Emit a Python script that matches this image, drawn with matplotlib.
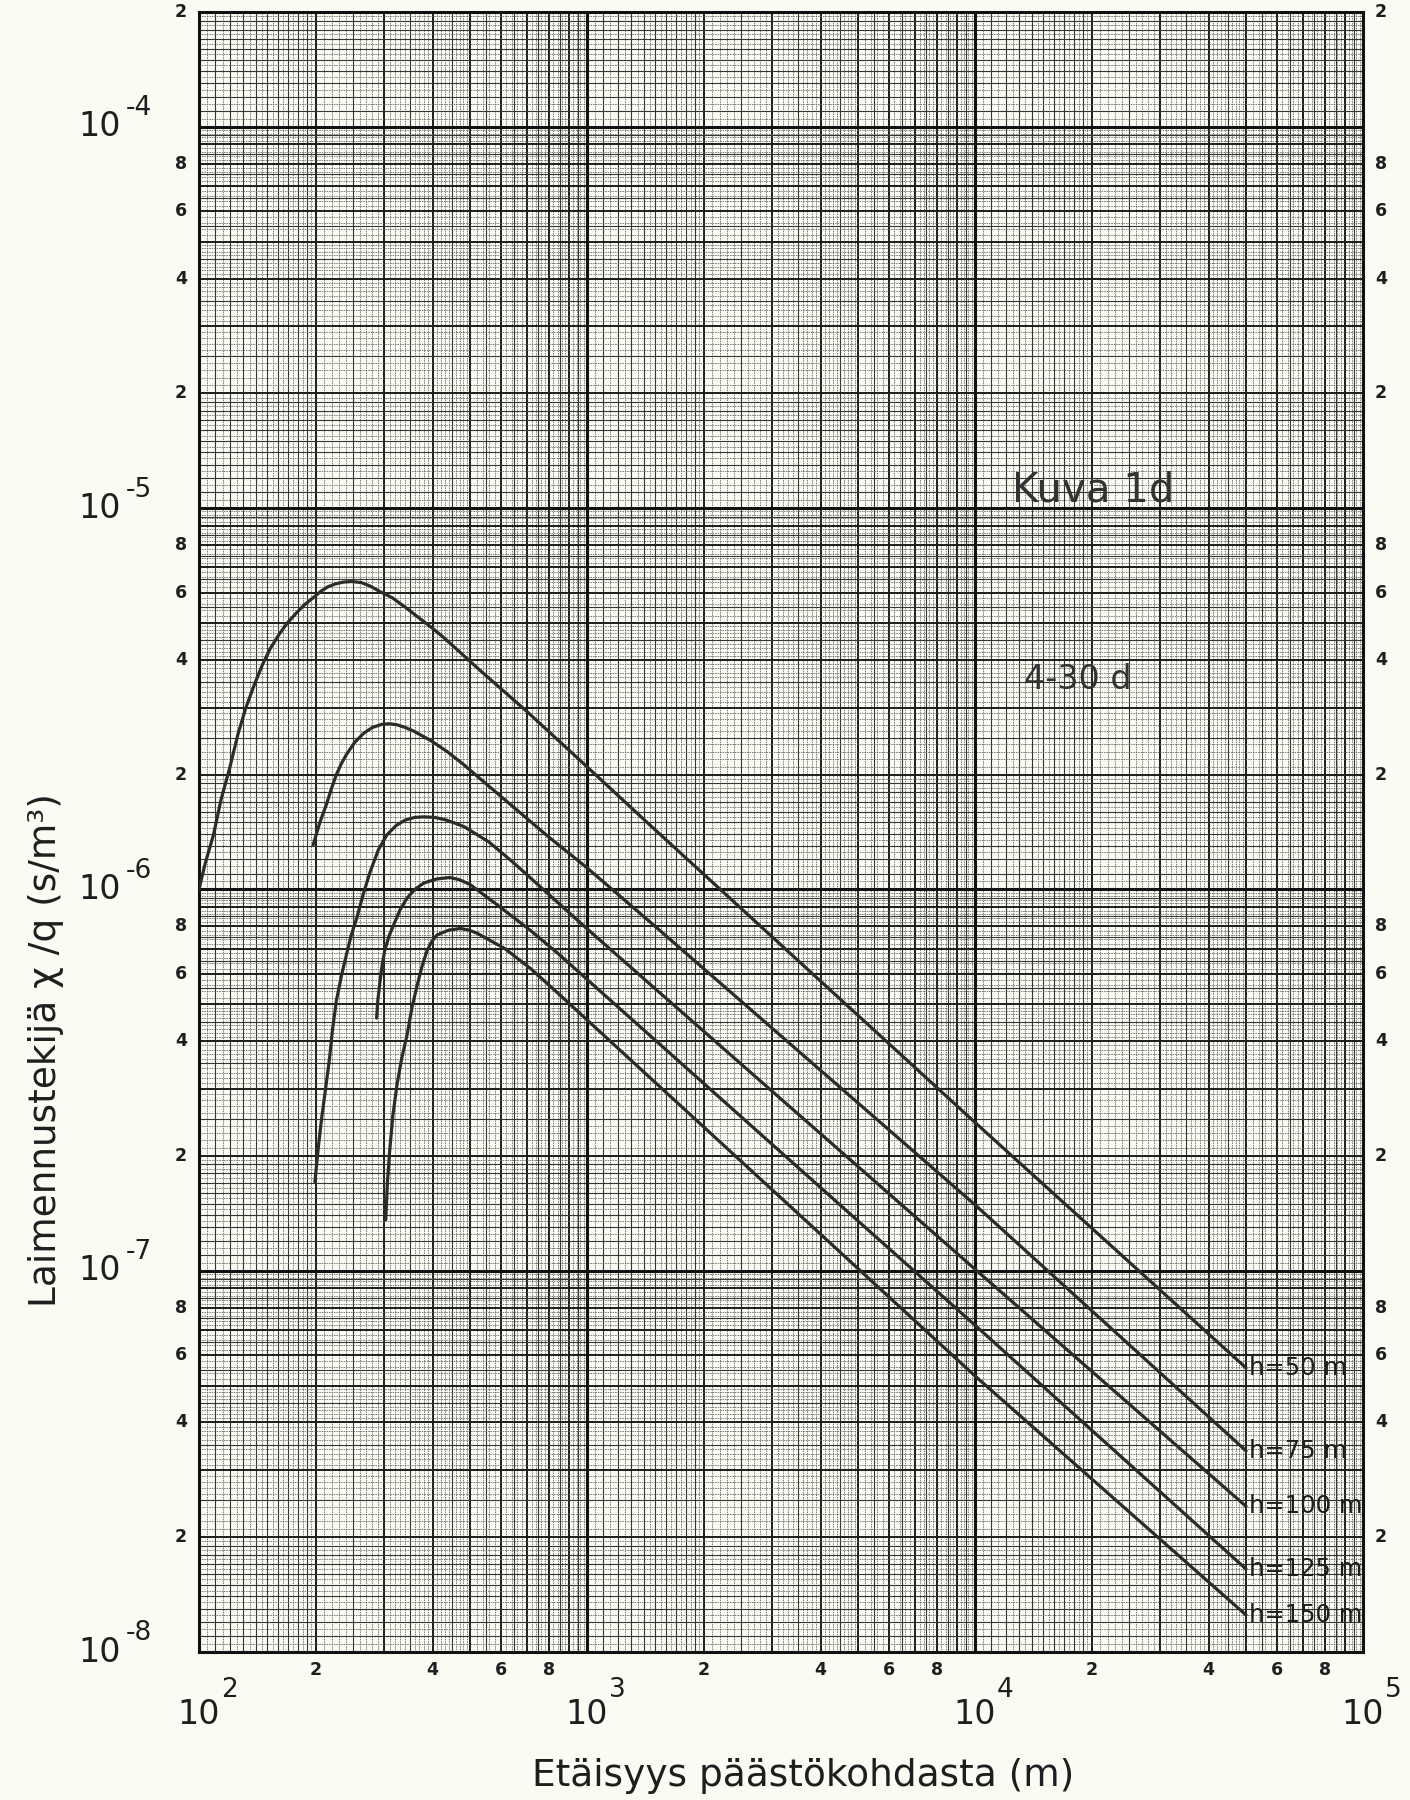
import numpy as np
import matplotlib
matplotlib.use("Agg")
import matplotlib.pyplot as plt
import matplotlib.font_manager as fm

# ---------------- data ----------------
h50_x = [100, 104, 109, 114, 120, 126, 132, 139, 146, 153, 161, 169, 178, 187, 197, 206, 215, 225, 236,
         248, 262, 276, 292, 315, 340, 365, 394, 425, 460, 531, 700, 965, 1438, 10000, 50000]
h50_y = [1.0e-6, 1.18e-6, 1.39e-6, 1.72e-6, 2.08e-6, 2.55e-6, 2.99e-6, 3.45e-6, 3.9e-6, 4.3e-6, 4.67e-6,
         5.0e-6, 5.3e-6, 5.58e-6, 5.82e-6, 6.05e-6, 6.22e-6, 6.33e-6, 6.4e-6,
         6.42e-6, 6.38e-6, 6.25e-6, 6.05e-6, 5.82e-6, 5.5e-6, 5.2e-6, 4.9e-6, 4.6e-6, 4.28e-6, 3.75e-6,
         2.93e-6, 2.17e-6, 1.49e-6, 2.45e-7, 5.56e-8]

h75_x = [197, 205, 213, 220, 226, 233, 240, 252, 266, 280, 296, 310, 325, 340, 358, 395, 436, 480, 531,
         792, 1000, 1438, 10000, 50000]
h75_y = [1.31e-6, 1.5e-6, 1.67e-6, 1.85e-6, 2.0e-6, 2.14e-6, 2.26e-6, 2.43e-6, 2.57e-6, 2.66e-6, 2.71e-6,
         2.72e-6, 2.70e-6, 2.66e-6, 2.60e-6, 2.46e-6, 2.30e-6, 2.13e-6, 1.95e-6,
         1.38e-6, 1.14e-6, 0.83e-6, 1.49e-7, 3.37e-8]

h100_x = [199, 203, 207, 212, 217, 221, 226, 233, 240, 247, 255, 265, 276, 290, 305, 322, 340, 360, 380,
          405, 430, 455, 483, 560, 650, 965, 1438, 10000, 50000]
h100_y = [1.71e-7, 2.1e-7, 2.5e-7, 3.0e-7, 3.6e-7, 4.3e-7, 5.1e-7, 5.95e-7, 6.75e-7, 7.6e-7, 8.4e-7,
          9.7e-7, 1.11e-6, 1.27e-6, 1.39e-6, 1.47e-6, 1.52e-6, 1.545e-6, 1.55e-6,
          1.545e-6, 1.525e-6, 1.495e-6, 1.46e-6, 1.33e-6, 1.17e-6, 0.815e-6, 0.57e-6, 1.01e-7, 2.41e-8]

h125_x = [287, 289, 292, 296, 301, 309, 318, 330, 344, 360, 380, 410, 443, 470, 500, 588, 716, 841,
          10000, 50000]
h125_y = [4.6e-7, 5.1e-7, 5.6e-7, 6.25e-7, 6.9e-7, 7.55e-7, 8.1e-7, 8.85e-7, 0.95e-6, 1.0e-6, 1.04e-6,
          1.065e-6, 1.075e-6, 1.06e-6, 1.03e-6, 0.91e-6, 0.78e-6, 0.68e-6, 7.2e-8, 1.65e-8]

h150_x = [303, 306, 310, 316, 324, 333, 344, 354, 365, 376, 387, 398, 411, 440, 472, 497, 522, 614, 716,
          841, 10000, 50000]
h150_y = [1.36e-7, 1.7e-7, 2.05e-7, 2.55e-7, 3.08e-7, 3.6e-7, 4.16e-7, 4.9e-7, 5.6e-7, 6.3e-7, 6.9e-7,
          7.3e-7, 7.6e-7, 7.82e-7, 7.9e-7, 7.82e-7, 7.67e-7, 7.0e-7, 6.2e-7, 5.35e-7, 5.3e-8, 1.25e-8]

curve_labels = ["h=50 m", "h=75 m", "h=100 m", "h=125 m", "h=150 m"]

x_decade_exps = [2, 3, 4, 5]
y_decade_exps = [-8, -7, -6, -5, -4]
minor_mults = [2, 4, 6, 8]
minor_labels = ["2", "4", "6", "8"]

x_label = "Etäisyys päästökohdasta (m)"
y_label = "Laimennustekijä χ /q (s/m³)"
title_text = "Kuva 1d"
period_text = "4-30 d"

# ---------------- fonts ----------------
names = {f.name for f in fm.fontManager.ttflist}
narrow = "Liberation Sans Narrow" if "Liberation Sans Narrow" in names else "DejaVu Sans"
fam_narrow = [narrow, "DejaVu Sans"]
fam_num = ["DejaVu Sans"]

paper = "#fbfbf4"
ink = "#1e1e1e"

fig = plt.figure(figsize=(14.1, 18), dpi=100, facecolor=paper)
ax = fig.add_axes([0.1411, 0.0822, 0.8255, 0.9111])
ax.set_facecolor(paper)
ax.set_xscale("log")
ax.set_yscale("log")
ax.set_xlim(1e2, 1e5)
ax.set_ylim(1e-8, 2e-4)

# ---------------- graph-paper grid ----------------
def levels(top=10.0):
    fine = list(np.arange(1.05, 2.0, 0.05)) + list(np.arange(2.1, 5.0, 0.1)) + list(np.arange(5.2, 10.0, 0.2))
    medium = list(np.arange(1.1, 2.0, 0.1)) + list(np.arange(2.5, 10.0, 1.0))
    integ = list(range(2, 10))
    fine = [v for v in fine if all(abs(v - m) > 1e-6 for m in medium + integ)]
    medium = [v for v in medium if all(abs(v - m) > 1e-6 for m in integ)]
    f = lambda L: [v for v in L if v <= top + 1e-9]
    return f(fine), f(medium), f(integ)

xt = ax.get_xaxis_transform()
yt = ax.get_yaxis_transform()
styles = [(0.55, "#5c5c5c", (0, (2, 1.2))), (0.8, "#353535", "-"), (1.4, "#1c1c1c", "-")]
for k in [2, 3, 4]:
    for lv, (lw, c, ls) in zip(levels(), styles):
        ax.vlines([v * 10.0 ** k for v in lv], 0, 1, transform=xt, lw=lw, color=c, linestyles=ls, zorder=1)
for k in [-8, -7, -6, -5, -4]:
    top = 2.0 if k == -4 else 10.0
    for lv, (lw, c, ls) in zip(levels(top), styles):
        ax.hlines([v * 10.0 ** k for v in lv], 0, 1, transform=yt, lw=lw, color=c, linestyles=ls, zorder=1)
ax.vlines([10.0 ** k for k in x_decade_exps], 0, 1, transform=xt, lw=2.2, color="#111111", zorder=2)
ax.hlines([10.0 ** k for k in y_decade_exps], 0, 1, transform=yt, lw=2.2, color="#111111", zorder=2)
for s in ax.spines.values():
    s.set_linewidth(2.2)
    s.set_color("#111111")

# ---------------- curves ----------------
series = [(h50_x, h50_y), (h75_x, h75_y), (h100_x, h100_y), (h125_x, h125_y), (h150_x, h150_y)]
for (xs, ys), lab in zip(series, curve_labels):
    ax.plot(xs, ys, color="#2b2b2b", lw=2.3, zorder=5, solid_capstyle="round", solid_joinstyle="round")
    ax.annotate(lab, xy=(xs[-1], ys[-1]), xytext=(2, 0), textcoords="offset points",
                ha="left", va="center", fontsize=17.5, family=fam_narrow, color=ink, zorder=6)

# ---------------- ticks / labels ----------------
ax.tick_params(which="both", length=0, labelbottom=False, labelleft=False)
ax.set_xticks([], minor=False)
ax.set_yticks([], minor=False)
ax.set_xticks([], minor=True)
ax.set_yticks([], minor=True)

# x minor labels
for k in [2, 3, 4]:
    for m, t in zip(minor_mults, minor_labels):
        ax.annotate(t, xy=(m * 10.0 ** k, 0), xycoords=("data", "axes fraction"), xytext=(0, -13),
                    textcoords="offset points", ha="center", va="center", fontsize=12.5,
                    family=fam_num, color=ink, fontweight="bold")
# x decade labels
for k in x_decade_exps:
    ax.annotate("10", xy=(10.0 ** k, 0), xycoords=("data", "axes fraction"), xytext=(0, -45),
                textcoords="offset points", ha="center", va="center", fontsize=24, family=fam_num, color=ink)
    ax.annotate(str(k), xy=(10.0 ** k, 0), xycoords=("data", "axes fraction"), xytext=(16, -37),
                textcoords="offset points", ha="left", va="bottom", fontsize=19, family=fam_num, color=ink)

# y minor labels (left and right)
for k in [-8, -7, -6, -5, -4]:
    for m, t in zip(minor_mults, minor_labels):
        v = m * 10.0 ** k
        if v > 2e-4 * 1.0001:
            continue
        for xa, dx in [(0, -13), (1, 13)]:
            ax.annotate(t, xy=(xa, v), xycoords=("axes fraction", "data"), xytext=(dx, 0),
                        textcoords="offset points", ha="center", va="center", fontsize=12.5,
                        family=fam_num, color=ink, fontweight="bold")
# y decade labels
for k in y_decade_exps:
    ax.annotate("10", xy=(0, 10.0 ** k), xycoords=("axes fraction", "data"), xytext=(-56, 0),
                textcoords="offset points", ha="right", va="center", fontsize=24, family=fam_num, color=ink)
    ax.annotate(str(k), xy=(0, 10.0 ** k), xycoords=("axes fraction", "data"), xytext=(-53, 4),
                textcoords="offset points", ha="left", va="bottom", fontsize=19, family=fam_num, color=ink)

# axis titles
fig.text(803 / 1410, 1 - 1776 / 1800, x_label, ha="center", va="center", fontsize=27,
         family=fam_narrow, color=ink)
fig.text(46 / 1410, 1 - 1050 / 1800, y_label, ha="center", va="center", rotation=90, fontsize=27,
         family=fam_narrow, color=ink)

# annotations inside the plot
ax.text(0.768, 0.708, title_text, transform=ax.transAxes, ha="center", va="center", fontsize=29,
        family=fam_narrow, color="#333333", zorder=6)
ax.text(0.755, 0.593, period_text, transform=ax.transAxes, ha="center", va="center", fontsize=24,
        family=fam_narrow, color="#333333", zorder=6)

fig.savefig("out.png", dpi=100, facecolor=paper)
